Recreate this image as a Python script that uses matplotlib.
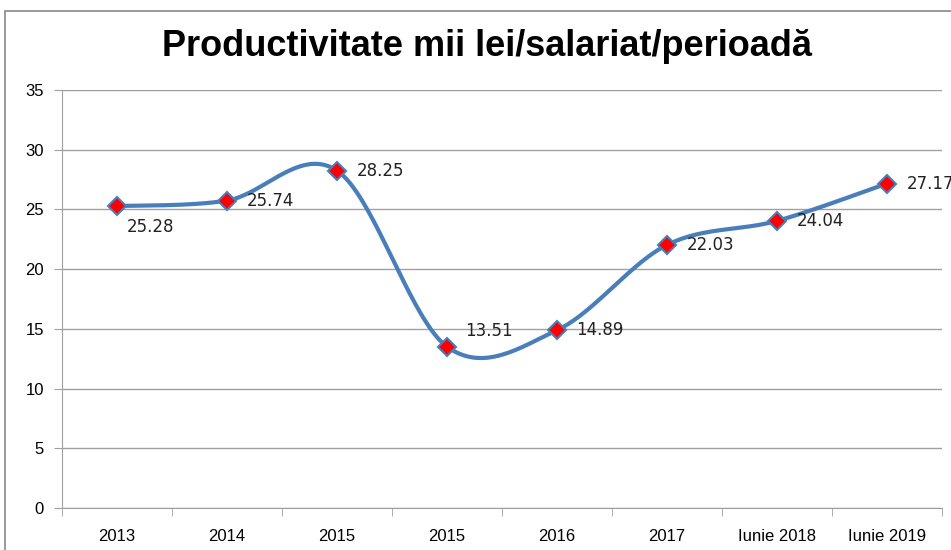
import numpy as np
import matplotlib.pyplot as plt
from matplotlib.patches import Rectangle

# date
categorii = ['2013', '2014', '2015', '2015', '2016', '2017', 'Iunie 2018', 'Iunie 2019']
valori = [25.28, 25.74, 28.25, 13.51, 14.89, 22.03, 24.04, 27.17]
# deplasare eticheta (puncte)
offset_x = [7, 14, 14, 13, 14, 14, 14, 14]
offset_y = [-15, 0, 0, 11, 0, 0, 0, 0]


def excel_smooth(x, y, n=40):
    # curba bezier cu tensiune 1/6 ca in Excel
    P = np.column_stack([x, y]).astype(float)
    P = np.vstack([P[0], P, P[-1]])
    xs, ys = [], []
    for i in range(1, len(P) - 2):
        p0, p1, p2, p3 = P[i - 1], P[i], P[i + 1], P[i + 2]
        c1 = p1 + (p2 - p0) / 6
        c2 = p2 - (p3 - p1) / 6
        t = np.linspace(0, 1, n)[:, None]
        b = (1 - t) ** 3 * p1 + 3 * (1 - t) ** 2 * t * c1 + 3 * (1 - t) * t ** 2 * c2 + t ** 3 * p2
        xs.extend(b[:, 0])
        ys.extend(b[:, 1])
    return np.array(xs), np.array(ys)


fig = plt.figure(figsize=(9.51, 5.5), dpi=100)
W, H = 951, 550
ax = fig.add_axes([62 / W, 1 - 508 / H, 880 / W, 418 / H])

fig.patches.append(Rectangle((5 / W, -0.1), 1.2, 1 - 11 / H + 0.1, transform=fig.transFigure,
                             fill=False, edgecolor='#888888', linewidth=1.2))

x = np.arange(len(valori))
sx, sy = excel_smooth(x, valori)
ax.plot(sx, sy, color='#4A7EBB', linewidth=3, zorder=3, solid_capstyle='round')
ax.plot(x, valori, linestyle='none', marker='D', markersize=9, markerfacecolor='#FF0000',
        markeredgecolor='#4A7EBB', markeredgewidth=1.5, zorder=4)

for i, v in enumerate(valori):
    ax.annotate('%.2f' % v, (x[i], v), xytext=(offset_x[i], offset_y[i]), textcoords='offset points',
                ha='left', va='center', fontsize=12, color='#222222', family='DejaVu Sans')

ax.set_xlim(-0.5, len(valori) - 0.5)
ax.set_ylim(0, 35)
ax.set_yticks(np.arange(0, 36, 5))
ax.yaxis.grid(True, color='#A0A0A0', linewidth=1)
ax.set_axisbelow(True)
ax.set_xticks(x)
ax.set_xticklabels(categorii, family='Liberation Sans', fontsize=12)
ax.set_xticks(np.arange(-0.5, len(valori)), minor=True)
ax.tick_params(axis='x', which='major', length=0, pad=15)
ax.tick_params(axis='x', which='minor', length=6, color='#A0A0A0')
ax.tick_params(axis='y', length=6, color='#A0A0A0', pad=7)
for lab in ax.get_yticklabels():
    lab.set_family('Liberation Sans')
    lab.set_fontsize(12)
for s in ['top', 'right']:
    ax.spines[s].set_visible(False)
ax.spines['left'].set_color('#A0A0A0')
ax.spines['bottom'].set_color('#A0A0A0')

fig.text(487 / W, 1 - 46 / H, 'Productivitate mii lei/salariat/perioadă', ha='center', va='center',
         fontsize=26, fontweight='bold', family='Liberation Sans')

fig.savefig('out.png', dpi=100)
